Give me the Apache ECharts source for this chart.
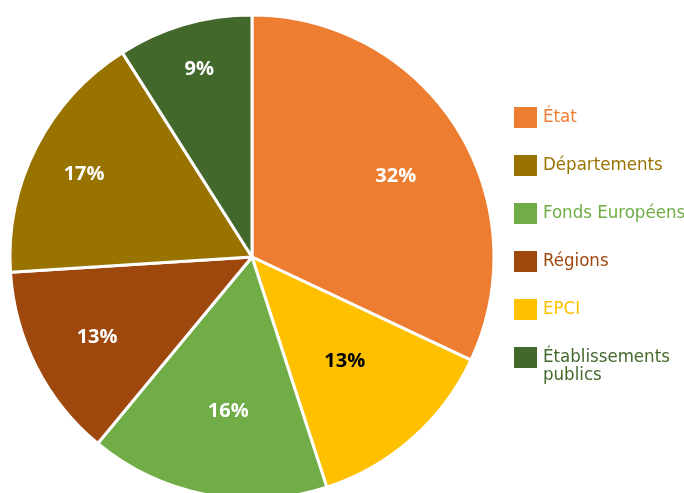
<!DOCTYPE html>
<html>
<head>
<meta charset="utf-8">
<script src="https://cdn.jsdelivr.net/npm/echarts@6/dist/echarts.min.js"></script>
<style>
html, body { margin: 0; padding: 0; background: #fff; }
#chart { width: 684px; height: 493px; }
</style>
</head>
<body>
<div id="chart"></div>
<script>
// parts, clockwise from 12 o'clock
var names = ['État', 'EPCI', 'Fonds Européens', 'Régions', 'Départements', 'Établissements publics'];
var shares = [32, 13, 16, 13, 17, 9];
var colors = ['#ED7D31', '#FFC000', '#70AD47', '#9E480E', '#997300', '#43682B'];
var labelColors = ['#fff', '#000', '#fff', '#fff', '#fff', '#fff'];
// legend order
var legendNames = ['État', 'Départements', 'Fonds Européens', 'Régions', 'EPCI', 'Établissements publics'];

// nudge labels off the ring midpoint (padding: top, right, bottom, left)
var labelPads = [
    [26, 8, 0, 0],
    [0, 46, 54, 0],
    [0, 0, 36, 18],
    [2, 0, 0, 2],
    [0, 24, 6, 0],
    [0, 8, 40, 0]
];

var myChart = echarts.init(document.getElementById('chart'));

var slices = names.map(function (n, i) {
    return { name: n, value: shares[i], itemStyle: { color: colors[i] } };
});
var labelSlices = names.map(function (n, i) {
    return {
        name: n,
        value: shares[i],
        label: {
            rich: {
                v: {
                    color: labelColors[i],
                    padding: labelPads[i],
                    fontFamily: 'Open Sans, sans-serif',
                    fontWeight: 'bold',
                    fontSize: 20
                }
            }
        }
    };
});

var legendFont = 'DejaVu Sans Condensed, Liberation Sans Narrow, sans-serif';

var option = {
    animation: false,
    legend: {
        orient: 'vertical',
        left: 512,
        top: 105,
        padding: 0,
        itemWidth: 25,
        itemHeight: 23,
        itemGap: 23,
        icon: 'rect',
        selectedMode: false,
        formatter: function (n) {
            return n === 'Établissements publics' ? 'Établissements' : n;
        },
        data: legendNames.map(function (n) {
            return { name: n, textStyle: { color: colors[names.indexOf(n)] } };
        }),
        textStyle: {
            fontFamily: legendFont,
            fontSize: 18.5,
            lineHeight: 20
        }
    },
    graphic: [{
        type: 'text',
        left: 543,
        top: 366,
        style: {
            text: 'publics',
            fill: colors[5],
            font: '18.5px ' + legendFont
        }
    }],
    series: [
        {
            type: 'pie',
            center: [252, 257],
            radius: 242,
            startAngle: 90,
            silent: true,
            label: { show: false },
            labelLine: { show: false },
            itemStyle: { borderColor: '#fff', borderWidth: 3 },
            data: slices
        },
        {
            type: 'pie',
            center: [252, 257],
            radius: [130, 214],
            startAngle: 90,
            silent: true,
            itemStyle: { color: 'transparent' },
            labelLine: { show: false },
            label: {
                show: true,
                position: 'inside',
                formatter: '{v|{c}%}'
            },
            data: labelSlices
        }
    ]
};
myChart.setOption(option);
</script>
</body>
</html>
